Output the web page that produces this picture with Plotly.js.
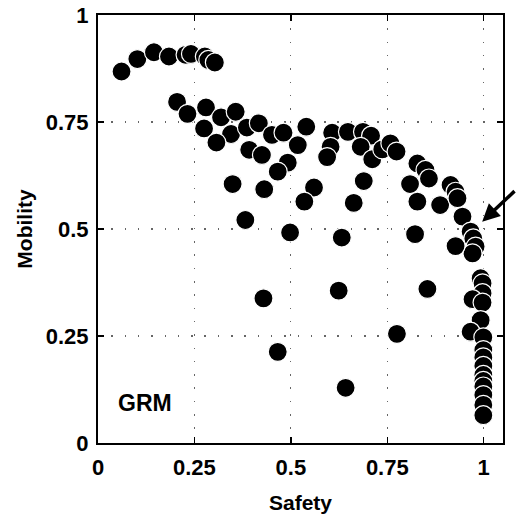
<!DOCTYPE html>
<html>
<head>
<meta charset="utf-8">
<script src="https://cdn.plot.ly/plotly-3.0.1.min.js"></script>
<style>html,body{margin:0;padding:0;background:#fff;}#chart{width:516px;height:515px;}</style>
</head>
<body>
<div id="chart"></div>
<script>
const safety = [
  0.061,0.102,0.145,0.184,0.227,0.241,0.277,0.286,0.303,
  0.205,0.232,0.280,0.319,0.357,0.275,0.345,0.307,0.386,0.417,
  0.392,0.425,0.451,0.481,0.518,0.540,0.492,0.466,0.349,0.431,
  0.560,0.535,0.382,0.498,0.607,0.603,0.594,0.648,0.687,0.708,
  0.681,0.711,0.737,0.758,0.774,0.689,0.663,0.632,0.828,0.849,
  0.858,0.809,0.828,0.887,0.914,0.927,0.932,0.945,0.822,0.966,
  0.973,0.979,0.971,0.927,0.854,0.429,0.624,0.775,0.466,0.642,
  0.992,0.997,0.997,0.971,0.997,0.992,0.966,0.999,0.999,0.999,
  0.999,0.999,0.999,0.999,0.999,0.999,0.999
];
const mobility = [
  0.868,0.897,0.913,0.903,0.907,0.909,0.903,0.895,0.889,
  0.797,0.769,0.784,0.761,0.774,0.735,0.722,0.702,0.737,0.747,
  0.685,0.673,0.720,0.725,0.696,0.739,0.655,0.634,0.605,0.593,
  0.597,0.564,0.521,0.492,0.725,0.692,0.668,0.727,0.727,0.718,
  0.692,0.663,0.686,0.700,0.681,0.612,0.561,0.480,0.653,0.638,
  0.618,0.605,0.564,0.556,0.603,0.587,0.572,0.529,0.488,0.494,
  0.478,0.459,0.443,0.460,0.360,0.338,0.356,0.255,0.213,0.129,
  0.385,0.373,0.350,0.336,0.328,0.287,0.260,0.247,0.217,0.200,
  0.180,0.159,0.145,0.132,0.112,0.089,0.065
];
const xTicks = [0, 0.25, 0.5, 0.75, 1];
const xTickLabels = ['0', '0.25', '0.5', '0.75', '1'];
const yTicks = [0, 0.25, 0.5, 0.75, 1];
const yTickLabels = ['0', '0.25', '0.5', '0.75', '1'];
const panelLabel = 'GRM';
const xTitle = 'Safety';
const yTitle = 'Mobility';

const font = 'Liberation Sans, Arial, Helvetica, sans-serif';

const trace = {
  x: safety, y: mobility, type: 'scatter', mode: 'markers',
  marker: {size: 19, color: '#000', line: {color: '#fff', width: 1.2}},
  cliponaxis: false, hoverinfo: 'skip'
};

const axisCommon = {
  showline: true, mirror: 'ticks', linecolor: '#000', linewidth: 2,
  ticks: 'inside', ticklen: 6, tickwidth: 1.5, tickcolor: '#000',
  showgrid: true, gridcolor: '#666', griddash: '1.5px,11.8px', gridwidth: 1.2,
  zeroline: false,
  tickfont: {family: font, size: 22, color: '#000', weight: 'bold'},
  tickmode: 'array'
};

const layout = {
  width: 516, height: 515,
  margin: {l: 98, r: 13, t: 15, b: 72},
  paper_bgcolor: '#fff', plot_bgcolor: '#fff',
  showlegend: false,
  font: {family: font, color: '#000'},
  xaxis: Object.assign({}, axisCommon, {
    range: [0, 1.05], tickvals: xTicks, ticktext: xTickLabels,
    ticklabelstandoff: 4,
    title: {text: '<b>' + xTitle + '</b>', font: {family: font, size: 21, color: '#000'}, standoff: 16}
  }),
  yaxis: Object.assign({}, axisCommon, {
    range: [0, 1], tickvals: yTicks, ticktext: yTickLabels,
    ticklabelstandoff: 3,
    title: {text: '<b>' + yTitle + '</b>', font: {family: font, size: 21, color: '#000'}, standoff: 7}
  }),
  annotations: [
    {x: 0.122, y: 0.093, xref: 'x', yref: 'y', text: '<b>' + panelLabel + '</b>', showarrow: false,
     font: {family: font, size: 23, color: '#000'}},
    {x: 0.996, y: 0.517, xref: 'x', yref: 'y', text: '', showarrow: true,
     ax: 36, ay: -32, arrowhead: 2, arrowsize: 1, arrowwidth: 3.5, arrowcolor: '#000', standoff: 0}
  ]
};

Plotly.newPlot('chart', [trace], layout, {displayModeBar: false, staticPlot: true});
</script>
</body>
</html>
